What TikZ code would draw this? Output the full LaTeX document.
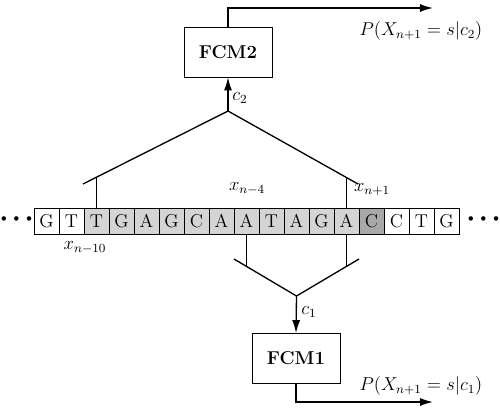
\documentclass[tikz,border=0pt]{standalone}
\usetikzlibrary{arrows.meta}
\definecolor{lightshade}{gray}{0.83}
\definecolor{darkshade}{gray}{0.66}
\begin{document}
\begin{tikzpicture}[x=0.645pt,y=-0.645pt,
  every node/.style={font=\large},
  cell/.style={draw,line width=0.5pt,minimum width=16.13pt,minimum height=16.77pt,inner sep=0pt},
  fcmbox/.style={draw,line width=0.5pt,minimum width=56.76pt,minimum height=32.25pt,inner sep=0pt,font=\large\bfseries},
  tree/.style={line width=0.85pt},
  flow/.style={line width=0.85pt,-{Latex[length=8.4pt,width=5.2pt]}},
  dots/.style={inner sep=0pt,font=\normalsize},
  lbl/.style={inner sep=1pt}]
\useasboundingbox (0,0) rectangle (500,411);
% sequence
\foreach \b [count=\i] in {G,T,T,G,A,G,C,A,A,T,A,G,A,C,C,T,G}{
  \ifnum\i<3 \def\fc{white}\else\ifnum\i<14 \def\fc{lightshade}\else\ifnum\i=14 \def\fc{darkshade}\else\def\fc{white}\fi\fi\fi
  \node[cell,fill=\fc] (s\i) at ({21.5+25*\i},221) {\b};
}
\node[dots] (dl) at (16.5,219.5) {\textbullet\hspace{0.4pt}\textbullet\hspace{0.4pt}\textbullet};
\node[dots] (dr) at (483.5,219.5) {\textbullet\hspace{0.4pt}\textbullet\hspace{0.4pt}\textbullet};
% labels
\node[lbl] (lx10) at (85,248) {$x_{n-10}$};
\node[lbl] (lx4) at (247,189) {$x_{n-4}$};
\node[lbl] (lx1) at (372,190) {$x_{n+1}$};
% boxes
\node[fcmbox] (fcm2) at (228,52) {FCM2};
\node[fcmbox] (fcm1) at (296,358.5) {FCM1};
% upper tree
\coordinate (apex2) at (228,111);
\coordinate (u1) at (83,184);
\coordinate (u2) at (358,184);
\coordinate (t3) at (96.5,177.3);
\coordinate (t13) at (346.5,177.5);
\draw[tree] (u1) -- (apex2) -- (u2);
\draw[tree] (s3.north) -- (t3);
\draw[tree] (s13.north) -- (t13);
\draw[flow] (apex2) -- (fcm2.south);
\node[lbl] (c2) at (240,98) {$c_2$};
% lower tree
\coordinate (apex1) at (296.5,296);
\coordinate (l1) at (234,259);
\coordinate (l2) at (359,259);
\coordinate (b9) at (246.5,266.3);
\coordinate (b13) at (346.5,266.3);
\draw[tree] (l1) -- (apex1) -- (l2);
\draw[tree] (s9.south) -- (b9);
\draw[tree] (s13.south) -- (b13);
\draw[flow] (apex1) -- (fcm1.north);
\node[lbl] (c1) at (309,312) {$c_1$};
% outputs
\coordinate (o2) at (433,8);
\coordinate (o1) at (433,402);
\draw[flow] (fcm2.north) |- (o2);
\draw[flow] (fcm1.south) |- (o1);
\node[lbl] (p2) at (421,31) {$P(X_{n+1}=s|c_2)$};
\node[lbl] (p1) at (421,386) {$P(X_{n+1}=s|c_1)$};
\end{tikzpicture}
\end{document}
